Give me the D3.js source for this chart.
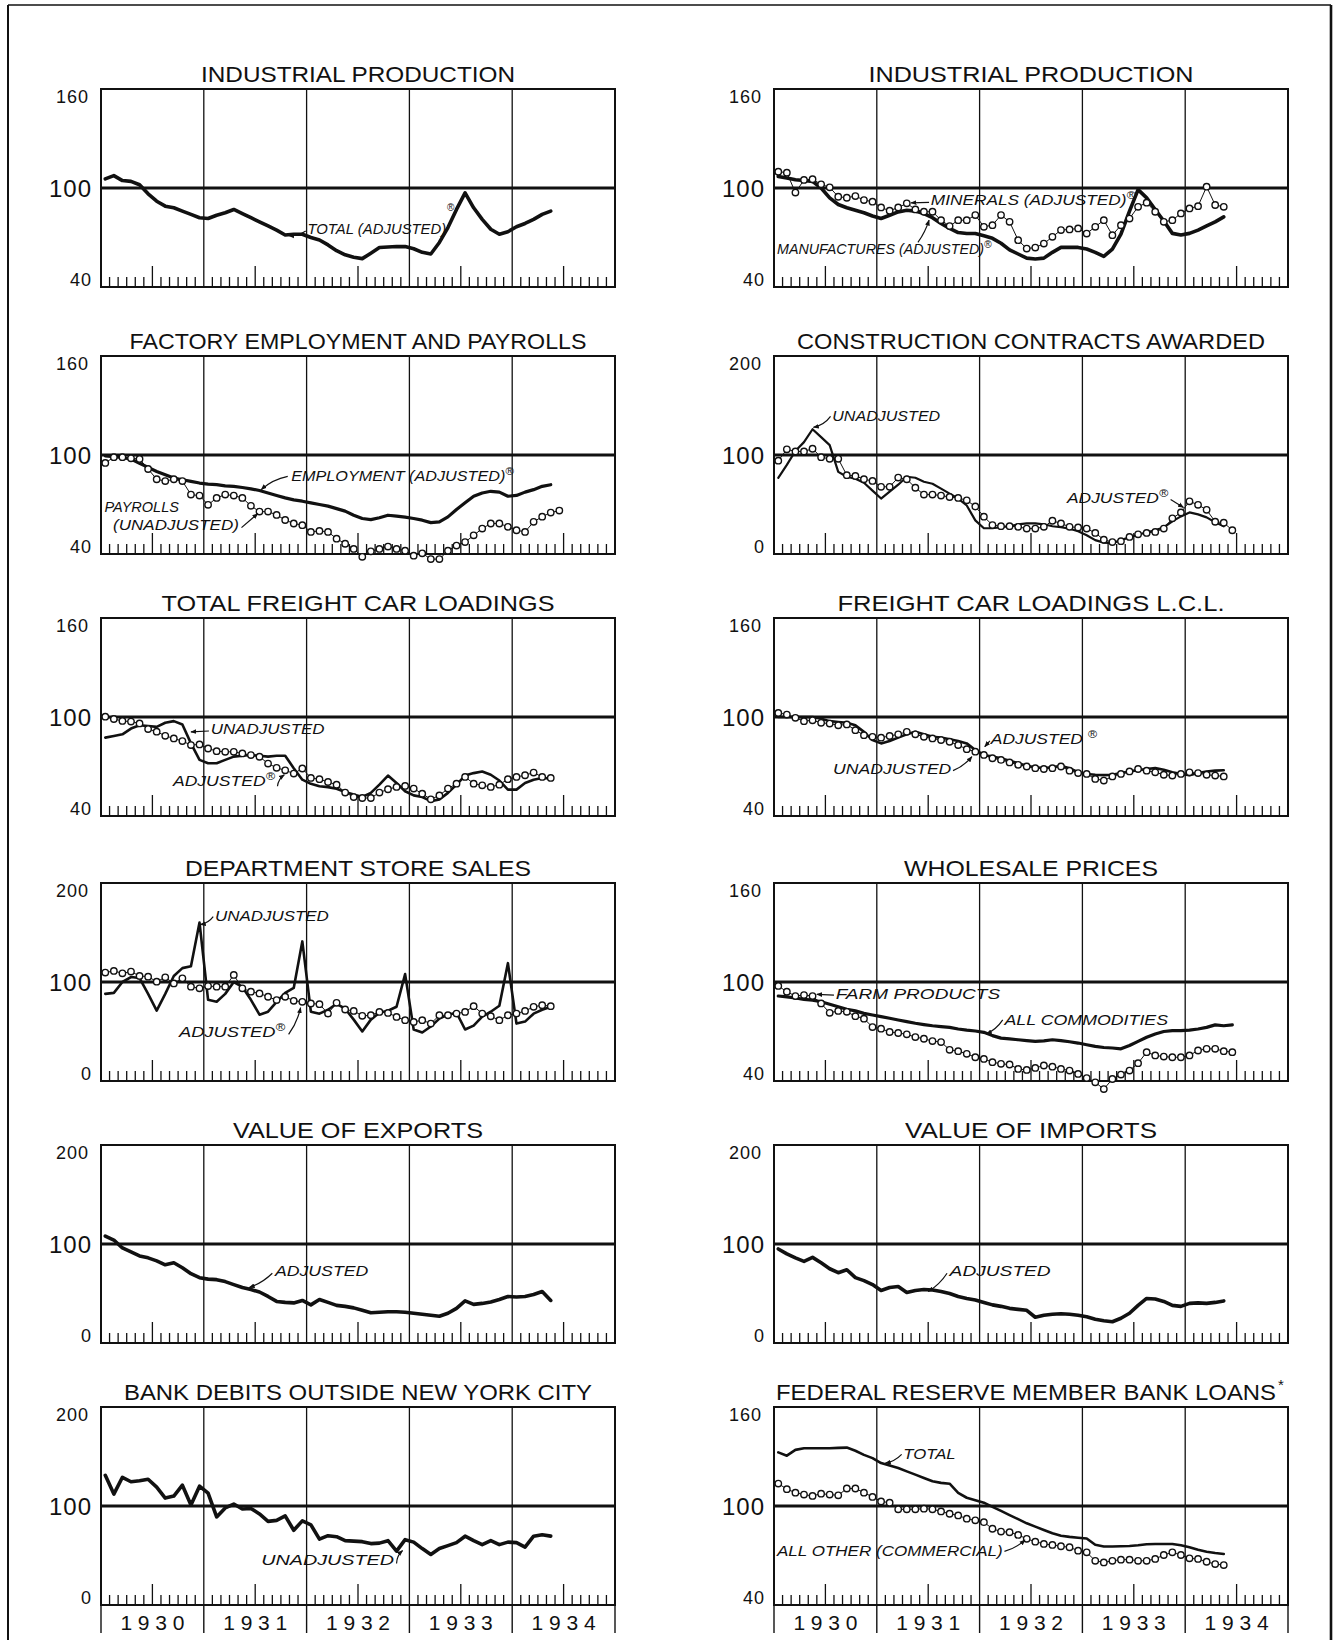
<!DOCTYPE html>
<html>
<head>
<meta charset="utf-8">
<script src="https://cdn.jsdelivr.net/npm/d3@7"></script>
<style>
  body { margin: 0; background: #fff; }
  svg { display: block; }
  text { font-family: "Liberation Sans", Arial, sans-serif; fill: #111; }
</style>
</head>
<body>
<div id="chart"></div>
<script>
// ---- data: monthly index values, Jan 1930 onward ----
const years = ["1930", "1931", "1932", "1933", "1934"];

const industrialTotal = [105.5, 107.5, 104.5, 104, 102, 96.5, 92, 89, 88, 86, 84, 82, 81.5, 83.5, 85, 87, 84.5, 82, 79.5, 77, 74.5, 71.5, 72, 72, 70, 68.5, 65.5, 62, 59.5, 58, 57.2, 60.5, 63.9, 64.2, 64.5, 64.5, 63.2, 61, 60, 67, 76, 87, 97, 88, 81, 75, 72, 73.5, 76.5, 78.5, 81, 84, 86];

const manufactures = [107, 106, 105, 104.5, 104, 100, 94, 90, 88, 86.5, 85, 83, 81.5, 83.5, 85.5, 86.5, 86, 84.5, 82, 78.5, 75.5, 73, 72.4, 72.4, 71, 69.5, 66.5, 62.5, 60, 57.5, 57, 57.5, 61, 64, 64, 64, 63, 61, 58.5, 63, 72, 86, 99, 94, 87, 80, 72.5, 71.5, 72.5, 74.5, 77, 79.5, 82.5];
const minerals = [109.9, 109.3, 97.2, 104.9, 105.3, 102.2, 100.4, 94.7, 94.1, 95.1, 92.7, 91.7, 88.2, 86.2, 88.2, 90.7, 87.0, 85.6, 85.6, 80.5, 76.9, 80.5, 80.5, 83.6, 76.5, 77.5, 83.6, 79.5, 68.4, 63.3, 63.9, 66.3, 70.4, 74.5, 74.9, 75.5, 72.4, 76.5, 80.5, 71.4, 77.5, 81.5, 88.6, 91.1, 85.6, 79.5, 80.5, 84.6, 87.6, 89.0, 100.8, 89.7, 88.6];

const employment = [99.5, 99, 98.5, 97.5, 95, 92.5, 90, 88, 86, 85, 84, 83, 82.3, 82, 81.3, 81, 80.3, 79.5, 78.5, 77, 75.5, 74, 72.8, 72, 71, 70, 69, 67.5, 66, 63.5, 61.5, 60.8, 62, 63.5, 63, 62.3, 61.5, 60.5, 59, 59.5, 62.5, 67, 71, 75, 77, 78, 77.5, 75, 75.5, 77.5, 79, 81, 82];
const payrolls = [95.2, 98.7, 98.7, 98.0, 97.6, 91.5, 85.3, 84.2, 85.3, 84.2, 76.0, 75.4, 69.8, 74.0, 76.0, 75.4, 74.0, 69.2, 65.7, 65.7, 63.7, 60.6, 58.5, 57.5, 53.4, 54.0, 53.4, 49.3, 46.2, 43.1, 38.3, 41.6, 43.1, 44.5, 43.1, 42.0, 39.0, 40.4, 36.9, 36.9, 42.0, 45.1, 47.2, 51.3, 55.4, 58.5, 58.5, 56.5, 54.4, 53.4, 59.5, 62.6, 65.1, 66.3];

const constructionUnadj = [77, 90, 104, 113, 126, 118, 110, 83, 78, 76, 72, 64, 56, 63, 70, 78, 77, 73, 71, 66, 61, 56, 49, 34, 26, 26, 27, 28, 30, 31, 31, 30, 28, 27, 25.5, 23, 19, 14, 11.5, 11, 14, 17, 19.5, 22, 24, 27, 33, 38, 42, 40, 37, 32, 28];
const constructionAdj = [94.3, 105.7, 103.6, 103.6, 106.3, 97.8, 96.1, 96.1, 79.6, 78.9, 75.5, 73.8, 67.9, 67.9, 77.2, 75.5, 66.9, 60.0, 60.0, 59.0, 57.6, 56.6, 54.2, 48.0, 37.7, 29.2, 28.1, 28.1, 27.4, 25.7, 25.7, 27.4, 33.6, 30.9, 27.4, 26.8, 25.7, 21.3, 14.4, 12.0, 13.0, 17.2, 19.9, 21.3, 22.3, 25.7, 36.0, 41.9, 53.2, 49.7, 44.6, 32.6, 31.6, 24.0];

const freightUnadj = [87.5, 88.5, 89.5, 93, 95, 94.5, 94, 96.5, 97.5, 95.5, 84, 74, 72, 72, 74, 76, 76.5, 77, 76.5, 76, 76.5, 76.5, 69, 62, 59.5, 58, 57.5, 56.5, 54.5, 53, 51.5, 54, 59, 64.5, 60, 55, 52.5, 51.5, 49, 50, 54, 59, 64.5, 66, 67, 65, 61.5, 56, 56, 60, 62, 63, 62.7];
const freightAdj = [100.2, 98.8, 97.6, 97.2, 96.1, 92.7, 91.1, 88.6, 87.0, 85.4, 83.0, 83.4, 80.9, 79.3, 78.9, 78.9, 77.9, 76.9, 75.9, 71.8, 69.2, 67.7, 65.7, 68.8, 63.1, 62.3, 60.6, 59.0, 54.2, 51.5, 50.9, 50.9, 54.2, 56.2, 57.6, 58.2, 56.6, 53.5, 50.1, 52.5, 56.6, 59.6, 63.7, 59.6, 58.6, 57.6, 59.0, 62.3, 63.7, 64.7, 66.3, 63.7, 63.1];

const lclUnadj = [100, 100, 100, 100, 100, 99, 97.5, 97, 96.5, 95, 91, 86, 84, 85.5, 87.5, 89.5, 91, 89.5, 88, 87.5, 86.5, 85.5, 84, 80, 77, 76, 75, 73.5, 72, 70.5, 69.5, 69, 69.5, 70.5, 69, 66.5, 65.5, 65, 64.8, 65, 66, 67, 67.8, 68.5, 69, 68, 66.5, 65.5, 64.7, 66, 67, 67.5, 67.7];
const lclAdj = [102.5, 101.5, 99.5, 97.5, 98, 96.5, 96, 95, 95.5, 92, 89, 88, 87.5, 88.5, 89.5, 91, 89.5, 88, 87, 86, 85, 83, 80.5, 79, 77, 75, 74, 72.5, 71, 70, 69, 68.5, 69, 70, 67.5, 66, 65.5, 62.5, 61.5, 64, 65.5, 67, 68.5, 67.5, 66.5, 65, 64.5, 65.5, 66.5, 66, 65, 64.5, 64];

const deptUnadj = [88, 89, 100, 105, 104, 88, 71, 88, 106, 114, 116, 160, 82, 80, 88, 100, 95, 82, 67, 70, 80, 89, 94, 141, 70, 68, 72, 78, 73, 62, 50, 62, 69, 71, 75, 108, 52, 49, 55, 63, 67, 69, 52, 56, 65, 70, 76, 119, 58, 60, 68, 72, 75];
const deptAdj = [109.5, 111.2, 108.8, 110.5, 106.1, 105.4, 100.3, 104.7, 98.6, 103.7, 95.3, 93.6, 95.9, 95.3, 95.3, 107.1, 93.6, 90.2, 88.5, 85.1, 81.7, 85.1, 81.0, 80.0, 78.3, 77.6, 68.1, 79.0, 72.2, 70.8, 65.8, 66.4, 69.8, 68.8, 64.7, 61.4, 59.7, 61.4, 58.0, 66.4, 66.4, 68.1, 69.8, 75.6, 68.1, 65.4, 61.4, 66.4, 68.1, 70.8, 74.9, 76.6, 75.6];

const allCommodities = [91.5, 91, 90.3, 89.5, 89, 88, 86.5, 85, 83.5, 82.5, 81, 80, 79, 78, 77, 76, 75, 74.2, 73.5, 73, 72.5, 71.5, 70.8, 70.3, 69.5, 67.5, 66, 65.5, 65, 64.5, 64, 64.3, 65, 64.5, 63.8, 63, 62, 61, 60.3, 60, 59.5, 61.5, 64, 66.5, 68.5, 70, 70.5, 70.5, 70.8, 71.5, 72.5, 74, 73.5, 74];
const farmProducts = [97.6, 94.1, 91.5, 92.1, 91.5, 87.0, 81.3, 82.5, 81.9, 79.3, 77.8, 72.7, 71.7, 69.7, 69.1, 68.3, 66.6, 65.6, 64.2, 63.6, 58.9, 58.1, 56.5, 54.4, 53.4, 51.4, 50.4, 50.0, 47.3, 46.7, 47.9, 49.4, 48.7, 47.3, 46.3, 44.3, 41.8, 39.2, 35.1, 41.2, 43.9, 46.3, 50.8, 57.5, 55.5, 54.8, 54.4, 54.4, 55.5, 58.5, 59.5, 59.5, 58.1, 57.5];

const exportsAdj = [108, 104, 96, 92, 88, 86, 83, 79, 81, 76, 70, 66, 64.5, 64, 62, 59, 56, 54, 51.5, 47, 42, 41, 40.5, 43, 38.5, 44, 41, 38, 37, 35.5, 33, 30.5, 31, 31.5, 31.5, 31, 30, 29, 28, 27, 30, 35, 42.5, 39, 40, 41.5, 44, 47, 46.5, 47, 49, 52, 43];
const importsAdj = [95, 90, 86, 82.5, 86.5, 81, 75, 71, 74, 66, 63, 59, 53, 56, 57, 51, 53, 54, 53.5, 52, 50, 47, 45, 43.5, 41, 38.5, 37, 35, 34, 33, 26, 28, 29, 29.5, 29, 28, 26.5, 24, 22.5, 21.5, 25, 30, 38, 45, 44.5, 42, 38, 37, 40, 40.5, 40, 41, 42.5];

const bankDebits = [131, 112, 129, 124.5, 125.5, 127, 119, 108, 110, 121, 101, 120, 113, 89, 98, 102, 97, 97.5, 92, 84.5, 85.5, 90, 75.5, 85, 81, 66.5, 70, 69, 65, 64.5, 64, 62, 62.5, 65, 54.5, 66, 63.5, 57, 51, 57, 60, 63, 69.5, 65, 61, 65, 61, 63.5, 63, 58.5, 69.5, 70.9, 69.6];

const loansTotal = [132.5, 130.5, 134, 135, 135, 135, 135, 135.2, 135.4, 133.5, 131, 129, 126, 124.5, 123, 121, 119, 117, 115, 114, 113.5, 108, 105, 103.5, 102, 99.5, 97, 94.5, 92, 89.5, 87.5, 85.5, 83.5, 82, 81.3, 80.8, 80.3, 76.5, 75.5, 75.5, 75.6, 75.8, 76.2, 76.8, 77, 77, 77, 76.2, 75, 73.5, 72.3, 71.5, 70.9];
const loansOther = [113.6, 110.2, 108.1, 106.9, 106.1, 107.5, 106.9, 106.5, 110.6, 110.6, 108.1, 105.5, 102.8, 102.0, 98.0, 98.0, 98.0, 98.4, 98.0, 96.7, 95.3, 94.3, 92.3, 91.3, 90.2, 86.2, 84.5, 84.1, 82.5, 80.1, 78.4, 77.0, 76.4, 75.6, 75.0, 72.9, 71.9, 66.8, 65.8, 66.8, 67.5, 67.5, 66.8, 66.8, 67.9, 70.3, 71.9, 70.3, 68.3, 67.9, 66.2, 64.8, 64.2];

// ---- layout ----
const W = 1339, H = 1640;
const colX = [[101, 615], [774, 1288]];
const rowTop = [89, 356, 618, 883, 1145, 1407];
const plotH = 198;
const ink = "#111";

// label positions are given in (month, index value) so they follow the scales
const panels = [
  { title: "INDUSTRIAL PRODUCTION", tw: 314, row: 0, col: 0, dom: [40, 160],
    series: [{ v: industrialTotal, type: "line", w: 3.6 }],
    labels: [{ t: "TOTAL (ADJUSTED)", m0: 24.1, m1: 40.3, v: 72.4 }],
    regs: [[40.4, 86]],
    arrows: [{ from: [23.9, 74], to: [21.9, 71.2], bend: -3 }] },
  { title: "INDUSTRIAL PRODUCTION", tw: 325, row: 0, col: 1, dom: [40, 160],
    series: [{ v: manufactures, type: "line", w: 3.6 }, { v: minerals, type: "circle" }],
    labels: [{ t: "MINERALS (ADJUSTED)", reg: true, m0: 18.3, m1: 42.2, v: 89.6 },
             { t: "MANUFACTURES (ADJUSTED)", reg: true, m0: 0.35, m1: 25.4, v: 60.2 }],
    arrows: [{ from: [18.1, 91.3], to: [16.0, 91], bend: 0 },
             { from: [16.8, 67], to: [18.1, 80.5], bend: 2 }] },
  { title: "FACTORY EMPLOYMENT AND PAYROLLS", tw: 457, row: 1, col: 0, dom: [40, 160],
    series: [{ v: employment, type: "line", w: 3.2 }, { v: payrolls, type: "circle" }],
    labels: [{ t: "EMPLOYMENT (ADJUSTED)", reg: true, m0: 22.2, m1: 48.2, v: 84.5 },
             { t: "PAYROLLS", m0: 0.4, m1: 9.1, v: 65.7 },
             { t: "(UNADJUSTED)", m0: 1.4, m1: 16.1, v: 54.4 }],
    arrows: [{ from: [21.8, 87], to: [18.7, 79], bend: 4 },
             { from: [16.4, 56], to: [18.3, 64.5], bend: 0 }] },
  { title: "CONSTRUCTION CONTRACTS AWARDED", tw: 468, row: 1, col: 1, dom: [0, 200],
    series: [{ v: constructionUnadj, type: "line", w: 2.2 }, { v: constructionAdj, type: "circle" }],
    labels: [{ t: "UNADJUSTED", m0: 6.8, m1: 19.4, v: 134.5 },
             { t: "ADJUSTED", reg: true, m0: 34.2, m1: 46, v: 51.5 }],
    arrows: [{ from: [6.6, 139], to: [4.6, 128], bend: -4 },
             { from: [46.3, 55], to: [47.8, 47], bend: 0 }] },
  { title: "TOTAL FREIGHT CAR LOADINGS", tw: 393, row: 2, col: 0, dom: [40, 160],
    series: [{ v: freightUnadj, type: "line", w: 2.6 }, { v: freightAdj, type: "circle" }],
    labels: [{ t: "UNADJUSTED", m0: 12.8, m1: 26.1, v: 89.5 },
             { t: "ADJUSTED", reg: true, m0: 8.4, m1: 20.3, v: 58.2 }],
    arrows: [{ from: [12.6, 91.5], to: [10.5, 91], bend: 0 },
             { from: [20.6, 58], to: [21.4, 65], bend: -3 }] },
  { title: "FREIGHT CAR LOADINGS L.C.L.", tw: 387, row: 2, col: 1, dom: [40, 160],
    series: [{ v: lclUnadj, type: "line", w: 2.6 }, { v: lclAdj, type: "circle" }],
    labels: [{ t: "ADJUSTED ", reg: true, m0: 25.3, m1: 37.7, v: 83.4 },
             { t: "UNADJUSTED", m0: 6.9, m1: 20.7, v: 65.7 }],
    arrows: [{ from: [25.2, 85.5], to: [24.6, 82], bend: 0 },
             { from: [20.9, 67.5], to: [23.1, 76], bend: 3 }] },
  { title: "DEPARTMENT STORE SALES", tw: 346, row: 3, col: 0, dom: [0, 200],
    series: [{ v: deptUnadj, type: "line", w: 2.6 }, { v: deptAdj, type: "circle" }],
    labels: [{ t: "UNADJUSTED", m0: 13.3, m1: 26.6, v: 161.4 },
             { t: "ADJUSTED", reg: true, m0: 9.1, m1: 21.5, v: 44.4 }],
    arrows: [{ from: [13.1, 166], to: [11.6, 158], bend: -3 },
             { from: [21.9, 47], to: [23.3, 74], bend: 3 }] },
  { title: "WHOLESALE PRICES", tw: 254, row: 3, col: 1, dom: [40, 160],
    series: [{ v: allCommodities, type: "line", w: 3.2 }, { v: farmProducts, type: "circle" }],
    labels: [{ t: "FARM PRODUCTS", m0: 7.2, m1: 26.4, v: 89.4 },
             { t: "ALL COMMODITIES", m0: 26.9, m1: 46, v: 73.8 }],
    arrows: [{ from: [7.0, 92], to: [5.0, 92.5], bend: 0 },
             { from: [26.7, 77], to: [24.8, 68.5], bend: -3 }] },
  { title: "VALUE OF EXPORTS", tw: 250, row: 4, col: 0, dom: [0, 200],
    series: [{ v: exportsAdj, type: "line", w: 3.6 }],
    labels: [{ t: "ADJUSTED", m0: 20.3, m1: 31.2, v: 67.8 }],
    arrows: [{ from: [20.0, 70.5], to: [17.3, 56], bend: -3 }] },
  { title: "VALUE OF IMPORTS", tw: 252, row: 4, col: 1, dom: [0, 200],
    series: [{ v: importsAdj, type: "line", w: 3.6 }],
    labels: [{ t: "ADJUSTED", m0: 20.5, m1: 32.3, v: 67.8 }],
    arrows: [{ from: [20.2, 70.5], to: [18.0, 52], bend: -3 }] },
  { title: "BANK DEBITS OUTSIDE NEW YORK CITY", tw: 468, row: 5, col: 0, dom: [0, 200],
    series: [{ v: bankDebits, type: "line", w: 3.6 }],
    labels: [{ t: "UNADJUSTED", m0: 18.7, m1: 34.2, v: 40.1 }],
    arrows: [{ from: [34.5, 42], to: [35.2, 55], bend: -3 }] },
  { title: "FEDERAL RESERVE MEMBER BANK LOANS", tw: 500, star: true, row: 5, col: 1, dom: [40, 160],
    series: [{ v: loansTotal, type: "line", w: 2.6 }, { v: loansOther, type: "circle" }],
    labels: [{ t: "TOTAL", m0: 15.1, m1: 21.2, v: 128.3 },
             { t: "ALL OTHER (COMMERCIAL)", m0: 0.35, m1: 26.7, v: 69.5 }],
    arrows: [{ from: [14.9, 131.3], to: [13.0, 126], bend: -3 },
             { from: [26.9, 72.5], to: [29.3, 79.5], bend: 3 }] }
];

const svg = d3.select("#chart").append("svg")
  .attr("width", W)
  .attr("height", H)
  .attr("viewBox", `0 0 ${W} ${H}`);

svg.append("rect").attr("width", W).attr("height", H).attr("fill", "#fff");

svg.append("defs").append("marker")
  .attr("id", "head")
  .attr("viewBox", "0 0 10 10")
  .attr("refX", 9).attr("refY", 5)
  .attr("markerWidth", 6).attr("markerHeight", 6)
  .attr("markerUnits", "userSpaceOnUse")
  .attr("orient", "auto")
  .append("path").attr("d", "M0,1 L10,5 L0,9 Z").attr("fill", ink);

// outer frame
const frame = svg.append("g").attr("stroke", ink).attr("fill", "none");
frame.append("line").attr("x1", 8).attr("x2", 8).attr("y1", 5).attr("y2", H).attr("stroke-width", 2);
frame.append("line").attr("x1", 8).attr("x2", 1331).attr("y1", 5).attr("y2", 5).attr("stroke-width", 1.6);
frame.append("line").attr("x1", 1331).attr("x2", 1331).attr("y1", 5).attr("y2", H).attr("stroke-width", 2.6);

panels.forEach(p => {
  const [left, right] = colX[p.col];
  const top = rowTop[p.row];
  const bottom = top + plotH;
  const x = d3.scaleLinear().domain([0, 60]).range([left, right]);
  const y = d3.scaleLinear().domain(p.dom).range([bottom, top]);
  const g = svg.append("g");

  // title
  g.append("text")
    .attr("x", (left + right) / 2 - (p.star ? 5 : 0))
    .attr("y", top - 7)
    .attr("text-anchor", "middle")
    .attr("font-size", 22)
    .attr("textLength", p.tw)
    .attr("lengthAdjust", "spacingAndGlyphs")
    .text(p.title);
  if (p.star) {
    g.append("text")
      .attr("x", (left + right) / 2 - 5 + p.tw / 2 + 2)
      .attr("y", top - 17)
      .attr("font-size", 15)
      .text("*");
  }

  // year gridlines
  g.selectAll(".yr").data(d3.range(12, 60, 12)).enter().append("line")
    .attr("x1", d => x(d)).attr("x2", d => x(d))
    .attr("y1", top).attr("y2", bottom)
    .attr("stroke", ink).attr("stroke-width", 1.3);

  // month ticks along the base
  g.selectAll(".mt").data(d3.range(1, 60).filter(m => m % 12 !== 0)).enter().append("line")
    .attr("x1", d => x(d)).attr("x2", d => x(d))
    .attr("y1", bottom).attr("y2", d => bottom - (d % 12 === 6 ? 21 : 10))
    .attr("stroke", ink).attr("stroke-width", 1.3);

  // 100 reference line
  g.append("line")
    .attr("x1", left).attr("x2", right)
    .attr("y1", y(100)).attr("y2", y(100))
    .attr("stroke", ink).attr("stroke-width", 3);

  // frame of plot
  g.append("rect")
    .attr("x", left).attr("y", top)
    .attr("width", right - left).attr("height", plotH)
    .attr("fill", "none").attr("stroke", ink).attr("stroke-width", 2);

  // y labels
  g.append("text").attr("x", left - 12).attr("y", top + 14)
    .attr("text-anchor", "end").attr("font-size", 18).attr("letter-spacing", 1)
    .text(p.dom[1]);
  g.append("text").attr("x", left - 9).attr("y", y(100) + 8.5)
    .attr("text-anchor", "end").attr("font-size", 24).attr("letter-spacing", 1)
    .text(100);
  g.append("text").attr("x", left - 9).attr("y", bottom - 1)
    .attr("text-anchor", "end").attr("font-size", 18).attr("letter-spacing", 1)
    .text(p.dom[0]);

  // series
  const line = d3.line().x((d, i) => x(i + 0.5)).y(d => y(d));
  p.series.forEach(s => {
    if (s.type === "line") {
      g.append("path").datum(s.v)
        .attr("d", line)
        .attr("fill", "none").attr("stroke", ink)
        .attr("stroke-width", s.w)
        .attr("stroke-linejoin", "round").attr("stroke-linecap", "round");
    } else {
      g.append("path").datum(s.v)
        .attr("d", line)
        .attr("fill", "none").attr("stroke", ink).attr("stroke-width", 1);
      g.selectAll(null).data(s.v).enter().append("circle")
        .attr("cx", (d, i) => x(i + 0.5))
        .attr("cy", d => y(d))
        .attr("r", 3.2)
        .attr("fill", "#fff").attr("stroke", ink).attr("stroke-width", 1.4);
    }
  });

  // annotation labels
  p.labels.forEach(l => {
    const t = g.append("text")
      .attr("x", x(l.m0)).attr("y", y(l.v))
      .attr("font-size", 14).attr("font-style", "italic")
      .attr("textLength", x(l.m1) - x(l.m0))
      .attr("lengthAdjust", "spacingAndGlyphs")
      .text(l.t);
    if (l.reg) {
      t.append("tspan").attr("font-size", 10).attr("dy", -6).text("®");
    }
  });
  (p.regs || []).forEach(r => {
    g.append("text").attr("x", x(r[0])).attr("y", y(r[1]))
      .attr("font-size", 10).text("®");
  });

  // arrows
  p.arrows.forEach(a => {
    const x0 = x(a.from[0]), y0 = y(a.from[1]);
    const x1 = x(a.to[0]), y1 = y(a.to[1]);
    const mx = (x0 + x1) / 2, my = (y0 + y1) / 2;
    const len = Math.hypot(x1 - x0, y1 - y0) || 1;
    const cx = mx - (y1 - y0) / len * a.bend;
    const cy = my + (x1 - x0) / len * a.bend;
    g.append("path")
      .attr("d", `M${x0},${y0} Q${cx},${cy} ${x1},${y1}`)
      .attr("fill", "none").attr("stroke", ink).attr("stroke-width", 1.2)
      .attr("marker-end", "url(#head)");
  });

  // bottom row carries the year scale
  if (p.row === 5) {
    g.selectAll(".ydiv").data(d3.range(0, 61, 12)).enter().append("line")
      .attr("x1", d => x(d)).attr("x2", d => x(d))
      .attr("y1", bottom).attr("y2", bottom + 28)
      .attr("stroke", ink).attr("stroke-width", 1.4);
    g.selectAll(".ylab").data(years).enter().append("text")
      .attr("x", (d, i) => x(i * 12 + 6))
      .attr("y", bottom + 25)
      .attr("text-anchor", "middle")
      .attr("font-size", 21)
      .attr("textLength", 64)
      .attr("lengthAdjust", "spacing")
      .text(d => d);
  }
});
</script>
</body>
</html>
